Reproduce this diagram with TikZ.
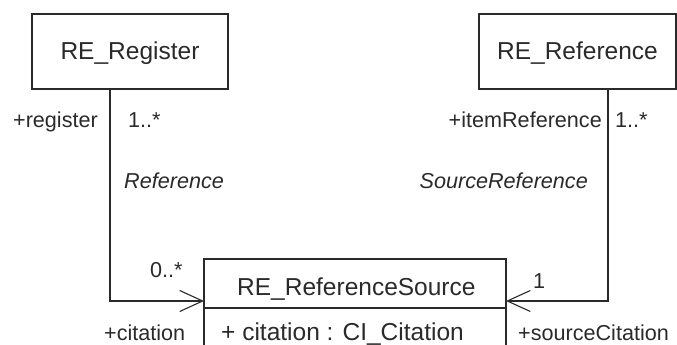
\documentclass[tikz,border=0pt]{standalone}
\usepackage{fontspec}
\setmainfont{Liberation Sans}
\usetikzlibrary{arrows.meta}
\definecolor{ink}{HTML}{2A2A2A}
\begin{document}
\begin{tikzpicture}[x=1pt,y=-1pt,
  cls/.style={draw=ink,line width=1.2pt,inner sep=0pt},
  lbl/.style={inner sep=0pt,text=ink,font=\fontsize{21.6}{25}\selectfont},
  ilbl/.style={lbl,font=\fontsize{21.6}{25}\selectfont\itshape},
  clsname/.style={inner sep=0pt,text=ink,font=\fontsize{24.5}{28}\selectfont},
  assoc/.style={draw=ink,line width=1.1pt,-{Straight Barb[length=23pt,width=21pt,line width=1.1pt]}}]
\useasboundingbox (0,0) rectangle (677,345);
% classes
\node[cls,minimum width=196pt,minimum height=75pt] (reg) at (130,51.5) {};
\node[clsname] (regname) at (130,53) {RE\_Register};
\node[cls,minimum width=197pt,minimum height=75pt] (ref) at (577.5,51.5) {};
\node[clsname] (refname) at (577.5,53) {RE\_Reference};
\draw[draw=ink,line width=1.2pt] (204,360) -- (204,259) -- (506,259) -- (506,360);
\draw[draw=ink,line width=1.2pt] (204,308) -- (506,308);
\coordinate (srcL) at (204,301);
\coordinate (srcR) at (506,301);
\node[clsname,anchor=base west] (srcname) at (237,295) {RE\_ReferenceSource};
\node[clsname,anchor=base west] (attr) at (221,340) {+ citation : CI\_Citation};
% connectors
\coordinate (regbend) at (110,301);
\coordinate (refbend) at (608,301);
\draw[assoc] (reg.south -| regbend) -- (regbend) -- (srcL);
\draw[assoc] (ref.south -| refbend) -- (refbend) -- (srcR);
% labels
\node[lbl,anchor=base east] (l1) at (98,127) {+register};
\node[lbl,anchor=base west] (l2) at (128,127) {1..*};
\node[ilbl,anchor=base west] (l3) at (124,188) {Reference};
\node[lbl,anchor=base west] (l4) at (150,277) {0..*};
\node[lbl,anchor=base west] (l5) at (104,340) {+citation};
\node[lbl,anchor=base east] (r1) at (602,127) {+itemReference};
\node[lbl,anchor=base west] (r2) at (615,127) {1..*};
\node[ilbl,anchor=base east] (r3) at (588,188) {SourceReference};
\node[lbl,anchor=base west] (r4) at (533,288) {1};
\node[lbl,anchor=base west] (r5) at (518,340) {+sourceCitation};
\end{tikzpicture}
\end{document}
